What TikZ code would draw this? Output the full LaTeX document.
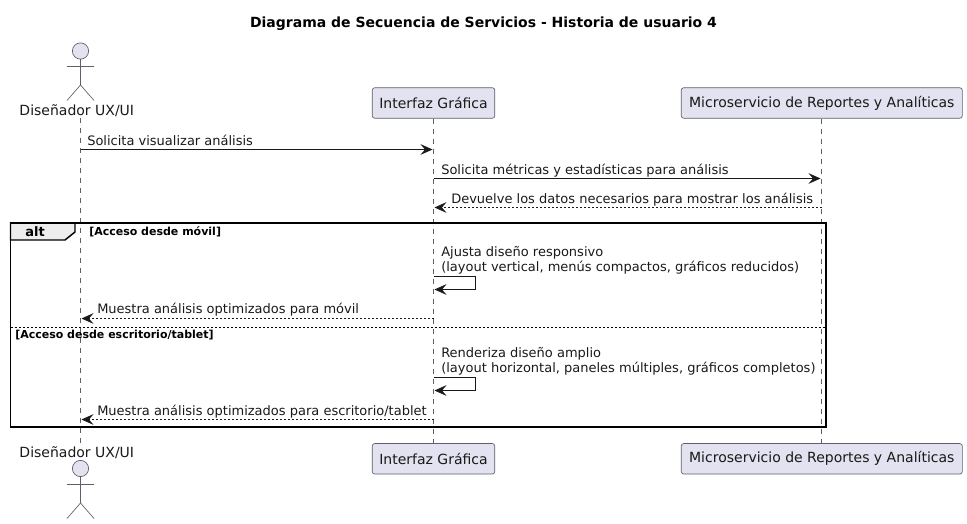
\documentclass[tikz,border=0pt]{standalone}
\usepackage{fontspec}
\setmainfont{DejaVu Sans}
\usetikzlibrary{arrows.meta}
\definecolor{partfill}{HTML}{E2E2F0}
\definecolor{partline}{HTML}{5F5F6B}
\tikzset{
  partbox/.style={draw=partline, fill=partfill, rounded corners=1.9pt, line width=.5pt, minimum height=22.9pt, inner xsep=0pt, inner ysep=0pt, font=\fontsize{10.5}{12}\selectfont, text=black!90},
  actorpart/.style={draw=partline, line width=.5pt},
  actorlabel/.style={font=\fontsize{10.5}{12}\selectfont, text=black!90, inner sep=0pt},
  lifeline/.style={draw=partline, line width=.5pt, dash pattern=on 3.75pt off 3.75pt},
  msg/.style={draw=black!90, line width=.6pt, -{Stealth[length=9pt,width=8pt,inset=3.4pt]}},
  reply/.style={msg, dash pattern=on 1.5pt off 1.5pt},
  msgtext/.style={font=\fontsize{9.75}{11.4}\selectfont, text=black!90, inner sep=0pt, align=left},
  guardtext/.style={font=\fontsize{8.25}{10}\bfseries\selectfont, text=black, inner sep=0pt},
}
\begin{document}
\begin{tikzpicture}[x=.75pt, y=-.75pt]
\useasboundingbox (0,0) rectangle (967,524);
\node[font=\fontsize{10.5}{12}\bfseries\selectfont, inner sep=0pt] (title) at (483.5,24){Diagrama de Secuencia de Servicios - Historia de usuario 4};
% participants
\node[partbox, minimum width=91.9pt] (uiTop) at (433.5,103){Interfaz Gráfica};
\node[partbox, minimum width=210.8pt] (msTop) at (821.8,103){Microservicio de Reportes y Analíticas};
\node[partbox, minimum width=91.9pt] (uiBot) at (433.5,458.8){Interfaz Gráfica};
\node[partbox, minimum width=210.8pt] (msBot) at (821.8,458.8){Microservicio de Reportes y Analíticas};
\node[actorlabel] (userTop) at (76.8,110.7){Diseñador UX/UI};
\node[actorlabel] (userBot) at (76.8,452.7){Diseñador UX/UI};
% lifelines
\coordinate (userA) at (80.5,118);
\coordinate (userB) at (80.5,443);
\draw[lifeline](userA) -- (userB);
\draw[lifeline](uiTop) -- (uiBot);
\draw[lifeline](msTop) -- (msBot);
% actor top
\node[circle, draw=partline, fill=partfill, line width=.5pt, minimum size=12.2pt, inner sep=0pt] (headTop) at (80.5,51){};
\coordinate (hipTop) at (80.5,85);
\coordinate (armTopL) at (67,66);
\coordinate (armTopR) at (94,66);
\coordinate (legTopL) at (67,100.5);
\coordinate (legTopR) at (94,100.5);
\draw[actorpart](headTop) -- (hipTop);
\draw[actorpart](armTopL) -- (armTopR);
\draw[actorpart](hipTop) -- (legTopL);
\draw[actorpart](hipTop) -- (legTopR);
% actor bottom
\node[circle, draw=partline, fill=partfill, line width=.5pt, minimum size=12.2pt, inner sep=0pt] (headBot) at (80.5,468.5){};
\coordinate (hipBot) at (80.5,503);
\coordinate (armBotL) at (67,484);
\coordinate (armBotR) at (94,484);
\coordinate (legBotL) at (67,518.5);
\coordinate (legBotR) at (94,518.5);
\draw[actorpart](headBot) -- (hipBot);
\draw[actorpart](armBotL) -- (armBotR);
\draw[actorpart](hipBot) -- (legBotL);
\draw[actorpart](hipBot) -- (legBotR);
% alt frame
\coordinate (frameA) at (10.5,223);
\coordinate (frameB) at (826,427);
\draw[black, line width=1.1pt, fill=black!7] (10.5,223) -- (75,223) -- (75,232) -- (65,240) -- (10.5,240) -- cycle;
\draw[black, line width=1.1pt](frameA) rectangle (frameB);
\node[font=\fontsize{9.75}{11}\bfseries\selectfont, inner sep=0pt] (altLabel) at (35,231.5){alt};
\node[guardtext, anchor=base west] (guardA) at (89,235){[Acceso desde móvil]};
\coordinate (elseA) at (10.5,327.5);
\coordinate (elseB) at (826,327.5);
\draw[black, line width=.6pt, dash pattern=on 1.5pt off 1.5pt](elseA) -- (elseB);
\node[guardtext, anchor=base west] (guardB) at (15,338){[Acceso desde escritorio/tablet]};
% messages
\coordinate (m1a) at (80.5,149.5);
\coordinate (m1b) at (432.5,149.5);
\draw[msg](m1a) -- (m1b);
\node[msgtext, anchor=base west] (m1) at (87,145.7){Solicita visualizar análisis};
\coordinate (m2a) at (433.5,178.5);
\coordinate (m2b) at (820.5,178.5);
\draw[msg](m2a) -- (m2b);
\node[msgtext, anchor=base west] (m2) at (441,174.7){Solicita métricas y estadísticas para análisis};
\coordinate (m3a) at (821.5,207.5);
\coordinate (m3b) at (434.5,207.5);
\draw[reply](m3a) -- (m3b);
\node[msgtext, anchor=base west] (m3) at (451,203.7){Devuelve los datos necesarios para mostrar los análisis};
\node[msgtext, anchor=west] (m4) at (441,260){Ajusta diseño responsivo\\(layout vertical, menús compactos, gráficos reducidos)};
\coordinate (m4a) at (433.5,276.5);
\coordinate (m4b) at (475.5,276.5);
\coordinate (m4c) at (475.5,289.5);
\coordinate (m4d) at (434.5,289.5);
\draw[msg](m4a) -- (m4b) -- (m4c) -- (m4d);
\coordinate (m5a) at (433.5,318.5);
\coordinate (m5b) at (81.5,318.5);
\draw[reply](m5a) -- (m5b);
\node[msgtext, anchor=base west] (m5) at (97,313.7){Muestra análisis optimizados para móvil};
\node[msgtext, anchor=west] (m6) at (441,361){Renderiza diseño amplio\\(layout horizontal, paneles múltiples, gráficos completos)};
\coordinate (m6a) at (433.5,377.5);
\coordinate (m6b) at (475.5,377.5);
\coordinate (m6c) at (475.5,390.5);
\coordinate (m6d) at (434.5,390.5);
\draw[msg](m6a) -- (m6b) -- (m6c) -- (m6d);
\coordinate (m7a) at (433.5,419.5);
\coordinate (m7b) at (81.5,419.5);
\draw[reply](m7a) -- (m7b);
\node[msgtext, anchor=base west] (m7) at (97,415.7){Muestra análisis optimizados para escritorio/tablet};
\end{tikzpicture}
\end{document}
